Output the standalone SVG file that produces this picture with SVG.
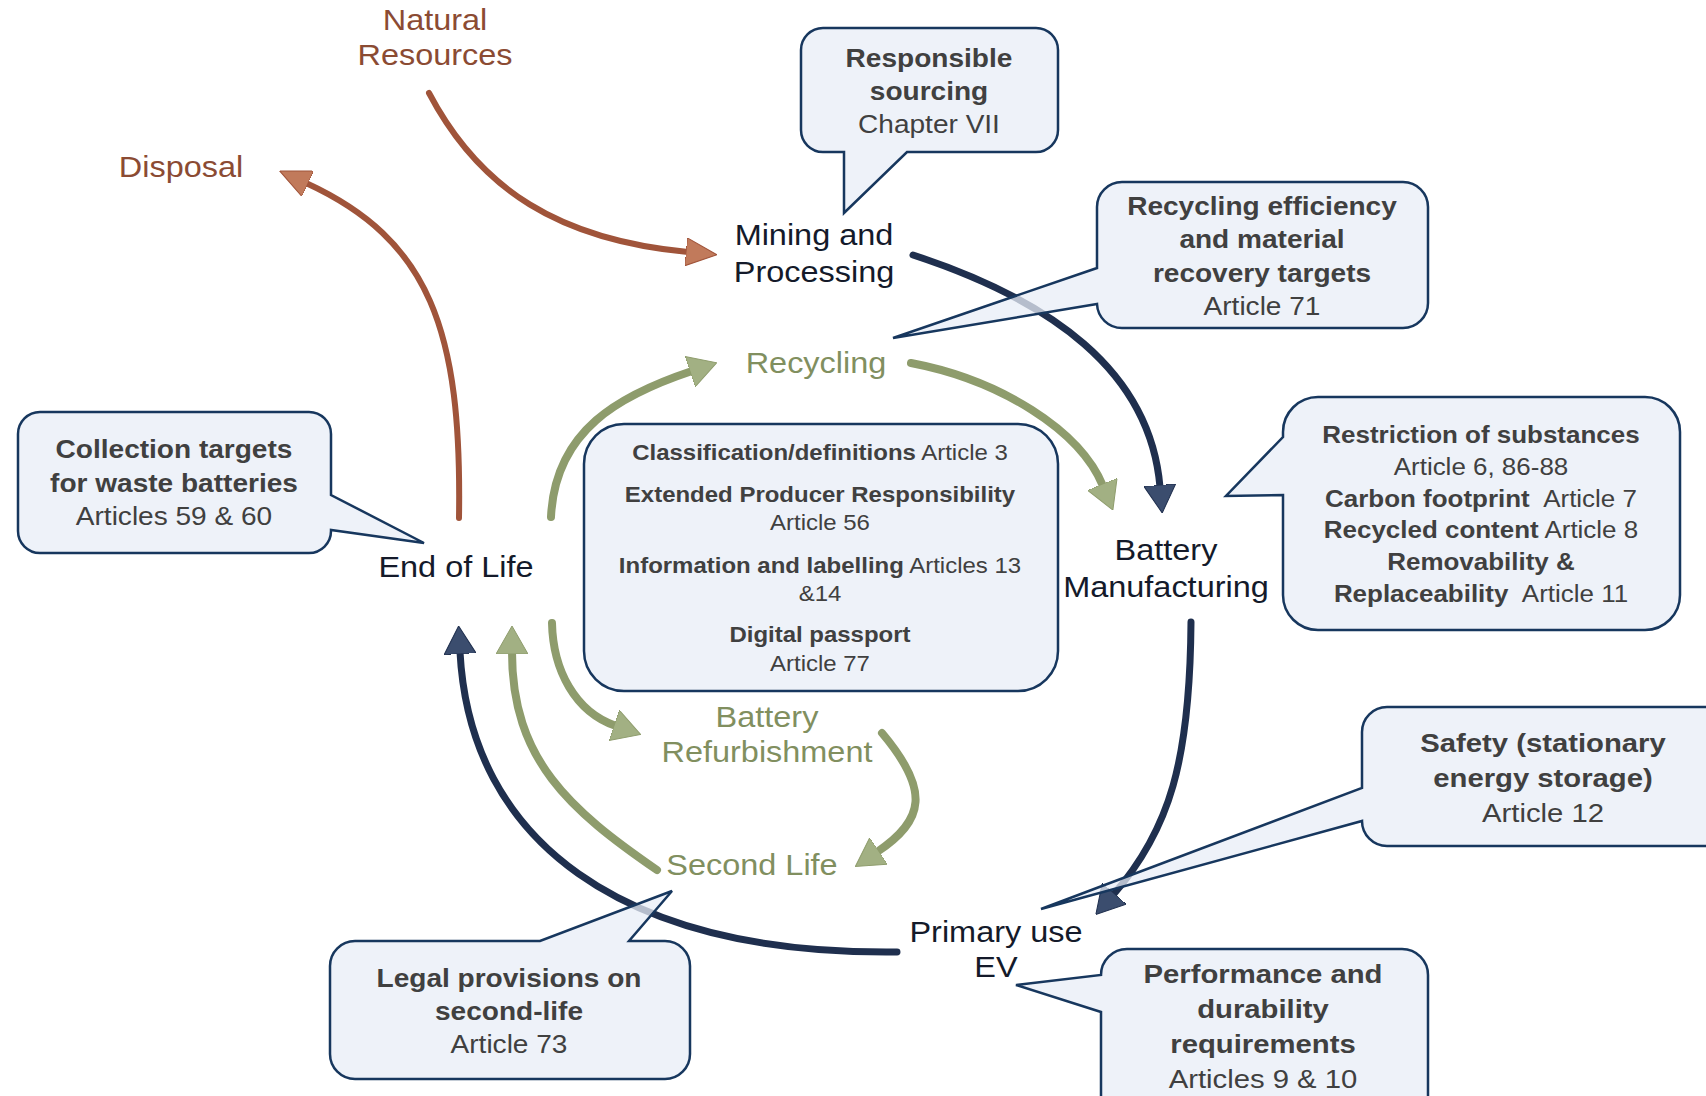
<svg xmlns="http://www.w3.org/2000/svg" width="1706" height="1096" viewBox="0 0 1706 1096">
<style>
text{font-family:"Liberation Sans",Arial,sans-serif;text-anchor:middle}
.lbl{font-size:29.5px}
.dark{fill:#141a2a}
.brown{fill:#8b4b33}
.green{fill:#818f5f}
.co{fill:#404040;font-size:25.5px}
.b{font-weight:bold}
.cobox{fill:#e8edf7;fill-opacity:0.75;stroke:#17375e;stroke-width:2.5;stroke-linejoin:miter}
.c{fill:none;stroke-linecap:round}
.cb{stroke:#a0543a;stroke-width:6}
.cn{stroke:#1f2f4e;stroke-width:7}
.cg{stroke:#8e9c6c;stroke-width:8}
</style>
<defs>
<marker id="mb" markerUnits="userSpaceOnUse" viewBox="0 0 31 28" refX="2" refY="14" markerWidth="31" markerHeight="28" orient="auto"><path d="M0,0 L31,14 L0,28 Z" fill="#c17a5b" stroke="#a0543a" stroke-width="1"/></marker>
<marker id="mn" markerUnits="userSpaceOnUse" viewBox="0 0 28 32" refX="2" refY="16" markerWidth="28" markerHeight="32" orient="auto"><path d="M0,0 L28,16 L0,32 Z" fill="#3b4d6e" stroke="#1f2f4e" stroke-width="1"/></marker>
<marker id="mg" markerUnits="userSpaceOnUse" viewBox="0 0 28 32" refX="2" refY="16" markerWidth="28" markerHeight="32" orient="auto"><path d="M0,0 L28,16 L0,32 Z" fill="#a2b083" stroke="#8e9c6c" stroke-width="1"/></marker>
</defs>
<rect width="1706" height="1096" fill="#ffffff"/>

<g id="connectors">
<path id="e-natural-mining" class="c cb" d="M429,93 C480,190 560,240 688,252" marker-end="url(#mb)"/>
<path id="e-eol-disposal" class="c cb" d="M459,518 C462,330 430,240 306,183" marker-end="url(#mb)"/>
<path id="e-mining-mfg" class="c cn" d="M913,255 C1050,300 1150,370 1160,487" marker-end="url(#mn)"/>
<path id="e-mfg-primary" class="c cn" d="M1191,622 C1190,760 1170,830 1113,895" marker-end="url(#mn)"/>
<path id="e-primary-eol" class="c cn" d="M897,952 C620,955 470,840 460,652" marker-end="url(#mn)"/>
<path id="e-eol-recycling" class="c cg" d="M551,517 C555,430 620,395 692,371" marker-end="url(#mg)"/>
<path id="e-recycling-mfg" class="c cg" d="M911,363 C1000,380 1080,430 1103,486" marker-end="url(#mg)"/>
<path id="e-eol-refurb" class="c cg" d="M552,623 C553,670 575,712 616,726" marker-end="url(#mg)"/>
<path id="e-refurb-second" class="c cg" d="M882,733 C930,790 925,820 877,852" marker-end="url(#mg)"/>
<path id="e-second-eol" class="c cg" d="M657,870 C570,810 512,760 512,652" marker-end="url(#mg)"/>
</g>

<g id="node-natural-resources">
<text class="lbl brown" transform="matrix(1.1 0 0 1 -43.5 0)"><tspan x="435" y="30">Natural</tspan><tspan x="435" y="65">Resources</tspan></text>
</g>
<g id="node-disposal">
<text class="lbl brown" transform="matrix(1.1 0 0 1 -18.1 0)" x="181" y="177">Disposal</text>
</g>
<g id="node-mining">
<text class="lbl dark" transform="matrix(1.1 0 0 1 -81.4 0)"><tspan x="814" y="245">Mining and</tspan><tspan x="814" y="282">Processing</tspan></text>
</g>
<g id="node-recycling">
<text class="lbl green" transform="matrix(1.1 0 0 1 -81.6 0)" x="816" y="373">Recycling</text>
</g>
<g id="node-manufacturing">
<text class="lbl dark" transform="matrix(1.1 0 0 1 -116.6 0)"><tspan x="1166" y="560">Battery</tspan><tspan x="1166" y="597">Manufacturing</tspan></text>
</g>
<g id="node-end-of-life">
<text class="lbl dark" transform="matrix(1.1 0 0 1 -45.6 0)" x="456" y="577">End of Life</text>
</g>
<g id="node-refurbishment">
<text class="lbl green" transform="matrix(1.1 0 0 1 -76.7 0)"><tspan x="767" y="727">Battery</tspan><tspan x="767" y="762">Refurbishment</tspan></text>
</g>
<g id="node-second-life">
<text class="lbl green" transform="matrix(1.1 0 0 1 -75.2 0)" x="752" y="875">Second Life</text>
</g>
<g id="node-primary-use">
<text class="lbl dark" transform="matrix(1.1 0 0 1 -99.6 0)"><tspan x="996" y="942">Primary use</tspan><tspan x="996" y="977">EV</tspan></text>
</g>

<g id="callout-responsible-sourcing">
<path class="cobox" d="M823,28 H1036 A22,22 0 0 1 1058,50 V130 A22,22 0 0 1 1036,152 H907 L844,213 V152 H823 A22,22 0 0 1 801,130 V50 A22,22 0 0 1 823,28 Z"/>
<text class="co" transform="matrix(1.1 0 0 1 -92.9 0)"><tspan class="b" x="929" y="67">Responsible</tspan><tspan class="b" x="929" y="100">sourcing</tspan><tspan x="929" y="133">Chapter VII</tspan></text>
</g>
<g id="callout-recycling-efficiency">
<path class="cobox" d="M1122,182 H1403 A25,25 0 0 1 1428,207 V303 A25,25 0 0 1 1403,328 H1122 A25,25 0 0 1 1097,304 L893,338 L1097,268 V207 A25,25 0 0 1 1122,182 Z"/>
<text class="co" transform="matrix(1.1 0 0 1 -126.2 0)"><tspan class="b" x="1262" y="215">Recycling efficiency</tspan><tspan class="b" x="1262" y="248">and material</tspan><tspan class="b" x="1262" y="282">recovery targets</tspan><tspan x="1262" y="315">Article 71</tspan></text>
</g>
<g id="callout-collection">
<path class="cobox" d="M40,412 H309 A22,22 0 0 1 331,434 V495 L424,543 L331,530 V531 A22,22 0 0 1 309,553 H40 A22,22 0 0 1 18,531 V434 A22,22 0 0 1 40,412 Z"/>
<text class="co" transform="matrix(1.1 0 0 1 -17.4 0)"><tspan class="b" x="174" y="458">Collection targets</tspan><tspan class="b" x="174" y="492">for waste batteries</tspan><tspan x="174" y="525">Articles 59 &amp; 60</tspan></text>
</g>
<g id="callout-general">
<rect class="cobox" x="584" y="424" width="474" height="267" rx="40" ry="40"/>
<text class="co" style="font-size:21.8px" transform="matrix(1.1 0 0 1 -82 0)"><tspan x="820" y="460"><tspan class="b">Classification/definitions</tspan> Article 3</tspan><tspan class="b" x="820" y="502">Extended Producer Responsibility</tspan><tspan x="820" y="530">Article 56</tspan><tspan x="820" y="573"><tspan class="b">Information and labelling</tspan> Articles 13</tspan><tspan x="820" y="601">&amp;14</tspan><tspan class="b" x="820" y="642">Digital passport</tspan><tspan x="820" y="671">Article 77</tspan></text>
</g>
<g id="callout-restriction">
<path class="cobox" d="M1318,397 H1645 A35,35 0 0 1 1680,432 V595 A35,35 0 0 1 1645,630 H1318 A35,35 0 0 1 1283,595 V495 L1226,496 L1283,437 V432 A35,35 0 0 1 1318,397 Z"/>
<text class="co" style="font-size:23.6px" transform="matrix(1.1 0 0 1 -148.1 0)"><tspan class="b" x="1481" y="443">Restriction of substances</tspan><tspan x="1481" y="475">Article 6, 86-88</tspan><tspan x="1481" y="507"><tspan class="b">Carbon footprint</tspan><tspan dx="7"> Article 7</tspan></tspan><tspan x="1481" y="538"><tspan class="b">Recycled content</tspan> Article 8</tspan><tspan class="b" x="1481" y="570">Removability &amp;</tspan><tspan x="1481" y="602"><tspan class="b">Replaceability</tspan><tspan dx="7"> Article 11</tspan></tspan></text>
</g>
<g id="callout-safety">
<path class="cobox" d="M1387,707 H1730 V846 H1387 A25,25 0 0 1 1362,821 L1041,909 L1362,788 V732 A25,25 0 0 1 1387,707 Z"/>
<text class="co" style="font-size:26.6px" transform="matrix(1.1 0 0 1 -154.3 0)"><tspan class="b" x="1543" y="752">Safety (stationary</tspan><tspan class="b" x="1543" y="787">energy storage)</tspan><tspan x="1543" y="822">Article 12</tspan></text>
</g>
<g id="callout-performance">
<path class="cobox" d="M1127,949 H1402 A26,26 0 0 1 1428,975 V1110 H1101 V1012 L1016,985 L1101,975 A26,26 0 0 1 1127,949 Z"/>
<text class="co" style="font-size:26.6px" transform="matrix(1.1 0 0 1 -126.3 0)"><tspan class="b" x="1263" y="983">Performance and</tspan><tspan class="b" x="1263" y="1018">durability</tspan><tspan class="b" x="1263" y="1053">requirements</tspan><tspan x="1263" y="1088">Articles 9 &amp; 10</tspan></text>
</g>
<g id="callout-second-life">
<path class="cobox" d="M355,941 H540 L672,891 L629,941 H665 A25,25 0 0 1 690,966 V1054 A25,25 0 0 1 665,1079 H355 A25,25 0 0 1 330,1054 V966 A25,25 0 0 1 355,941 Z"/>
<text class="co" transform="matrix(1.1 0 0 1 -50.9 0)"><tspan class="b" x="509" y="987">Legal provisions on</tspan><tspan class="b" x="509" y="1020">second-life</tspan><tspan x="509" y="1053">Article 73</tspan></text>
</g>
</svg>
